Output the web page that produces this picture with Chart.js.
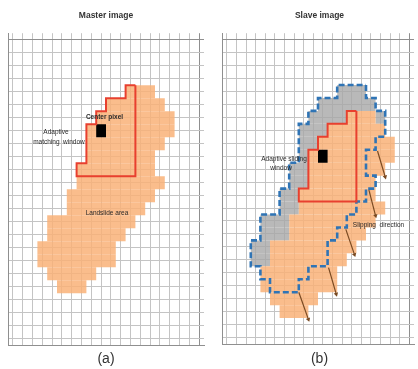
<!DOCTYPE html>
<html><head><meta charset="utf-8">
<script src="https://cdn.jsdelivr.net/npm/chart.js@4/dist/chart.umd.min.js"></script>
<style>
html,body{margin:0;padding:0;background:#fff;width:418px;height:369px;overflow:hidden}
#c1{position:absolute;left:0;top:0}
#c2{position:absolute;left:212px;top:0}
</style></head><body>
<canvas id="c1" width="212" height="369"></canvas>
<canvas id="c2" width="206" height="369"></canvas>
<script>
// ---- grid size (cells) ----
const COLS = 20, ROWS = 24;
// ---- landslide area in the master image: row index, first and last cell column ----
const slideRows  = [4, 5, 6, 7, 8, 9, 10, 11, 12, 13, 14, 15, 16, 17, 18, 19];
const slideStart = [12, 10, 9, 8, 8, 8, 7, 7, 6, 6, 4, 4, 3, 3, 4, 5];
const slideEnd   = [14, 15, 16, 16, 15, 14, 14, 15, 14, 13, 12, 11, 10, 10, 8, 7];
// ---- adaptive matching window ----
const winRows  = [4, 5, 6, 7, 8, 9, 10];
const winStart = [12, 10, 9, 8, 8, 8, 7];
const winEnd   = [12, 12, 12, 12, 12, 12, 12];
// ---- center pixel (col, row) ----
const centerCell = [9, 7];
// ---- slip of the landslide between the images (cols, rows) ----
const slipShift = [1, 2];
// ---- slipping direction arrows (cell units) ----
const arrowX0 = [16.2, 15.3, 12.9, 11.1, 8.0];
const arrowY0 = [9.1, 12.1, 15.15, 18.1, 20.0];
const arrowX1 = [17.0, 16.0, 13.8, 11.9, 9.0];
const arrowY1 = [11.1, 14.1, 17.1, 20.15, 22.1];
// ---- texts ----
const titles = ['Master image', 'Slave image'];
const captions = ['(a)', '(b)'];
const leftLabels = [
  {text: 'Center pixel', x: 9.85, y: 6.45, bold: true},
  {text: 'Adaptive', x: 4.9, y: 7.6},
  {text: 'matching  window', x: 5.2, y: 8.4},
  {text: 'Landslide area', x: 10.1, y: 13.85}
];
const rightLabels = [
  {text: 'Adaptive sliding', x: 6.46, y: 9.7},
  {text: 'window', x: 6.15, y: 10.4},
  {text: 'Slipping  direction', x: 16.3, y: 14.85}
];

const ORANGE = 'rgba(249,178,120,0.85)';
const GRAY = 'rgba(168,168,168,0.8)';
const RED = '#e8402f';
const BLUE = '#2f74b5';
const BROWN = '#7a4a22';

Chart.defaults.font.family = "'Liberation Sans', Arial, sans-serif";
Chart.defaults.devicePixelRatio = 1;

function cellSet(rows, starts, ends, dc, dr) {
  const s = new Set();
  rows.forEach((r, i) => { for (let c = starts[i]; c <= ends[i]; c++) s.add((c + dc) + ',' + (r + dr)); });
  return s;
}
function runs(set) {
  const out = [];
  for (let r = 0; r < ROWS; r++) {
    let c = 0;
    while (c < COLS) {
      if (set.has(c + ',' + r)) {
        let e = c;
        while (set.has((e + 1) + ',' + r)) e++;
        out.push({y: r + 0.5, x: [c, e + 1]});
        c = e + 1;
      } else c++;
    }
  }
  return out;
}
function outline(rows, starts, ends, dc, dr) {
  const pts = [];
  rows.forEach((r, i) => { pts.push({x: ends[i] + 1 + dc, y: r + dr}); pts.push({x: ends[i] + 1 + dc, y: r + 1 + dr}); });
  for (let i = rows.length - 1; i >= 0; i--) { pts.push({x: starts[i] + dc, y: rows[i] + 1 + dr}); pts.push({x: starts[i] + dc, y: rows[i] + dr}); }
  pts.push({...pts[0]});
  return pts;
}
function barDs(data, color, order) {
  return {type: 'bar', indexAxis: 'y', data, backgroundColor: color, borderWidth: 0,
    grouped: false, barPercentage: 1, categoryPercentage: 1, inflateAmount: 0, order};
}
function lineDs(data, color, width, dash, order) {
  return {type: 'line', data, borderColor: color, borderWidth: width, borderDash: dash || [],
    pointRadius: 0, fill: false, tension: 0, borderJoinStyle: 'miter', order};
}
function scaleOpts(max) {
  return {type: 'linear', min: 0, max, offset: false,
    ticks: {display: false, stepSize: 1, maxTicksLimit: 100, autoSkip: false},
    grid: {drawTicks: false, lineWidth: 1,
      color: ctx => (ctx.tick && (ctx.tick.value === 0 || ctx.tick.value === max)) ? '#8f8f8f' : '#c4c4c4'},
    border: {display: true, color: '#8f8f8f', width: 1}};
}
const textPlugin = {
  id: 'cellText',
  afterDatasetsDraw(chart, args, opts) {
    const ctx = chart.ctx, xs = chart.scales.x, ys = chart.scales.y;
    ctx.save();
    ctx.textAlign = 'center'; ctx.textBaseline = 'middle';
    (opts.items || []).forEach(l => {
      ctx.font = (l.bold ? 'bold ' : '') + "6.5px 'Liberation Sans', Arial, sans-serif";
      ctx.fillStyle = '#2a2a2a';
      ctx.fillText(l.text, xs.getPixelForValue(l.x), ys.getPixelForValue(l.y));
    });
    ctx.restore();
  }
};
function makeChart(id, datasets, title, caption, labels, pad) {
  return new Chart(document.getElementById(id), {
    type: 'bar',
    data: {datasets},
    plugins: [textPlugin],
    options: {
      responsive: false, animation: false, events: [],
      layout: {padding: {left: pad.left, right: pad.right, top: 0, bottom: 0}},
      scales: {x: scaleOpts(COLS), y: Object.assign(scaleOpts(ROWS), {reverse: true})},
      plugins: {
        legend: {display: false}, tooltip: {enabled: false},
        title: {display: true, text: title, color: '#333', font: {size: 8.5, weight: 'bold'}, padding: {top: 11, bottom: 12}},
        subtitle: {display: true, position: 'bottom', text: caption, color: '#333', font: {size: 14, weight: 'normal'}, padding: {top: pad.capTop, bottom: pad.capBottom}},
        cellText: {items: labels}
      }
    }
  });
}

// ---- master image ----
const orig = cellSet(slideRows, slideStart, slideEnd, 0, 0);
makeChart('c1', [
  lineDs(outline(winRows, winStart, winEnd, 0, 0), RED, 2, null, 1),
  barDs([{y: centerCell[1] + 0.5, x: [centerCell[0], centerCell[0] + 1]}], '#000', 3),
  barDs(runs(orig), ORANGE, 4)
], titles[0], captions[0], leftLabels, {left: 8, right: 8, capTop: 6, capBottom: 1});

// ---- slave image ----
const moved = cellSet(slideRows, slideStart, slideEnd, slipShift[0], slipShift[1]);
const uncovered = new Set([...orig].filter(k => !moved.has(k)));
const arrows = arrowX0.map((x0, i) => ({
  type: 'line', data: [{x: x0, y: arrowY0[i]}, {x: arrowX1[i], y: arrowY1[i]}],
  borderColor: BROWN, borderWidth: 1.2, fill: false, tension: 0, order: 0,
  pointRadius: [0, 2.6], pointStyle: 'triangle', pointBackgroundColor: BROWN, pointBorderColor: BROWN, pointBorderWidth: 0,
  rotation: ctx => {
    const ch = ctx.chart, d = ctx.dataset.data;
    if (!ch.scales || !ch.scales.x) return 0;
    const dx = ch.scales.x.getPixelForValue(d[1].x) - ch.scales.x.getPixelForValue(d[0].x);
    const dy = ch.scales.y.getPixelForValue(d[1].y) - ch.scales.y.getPixelForValue(d[0].y);
    return Math.atan2(dx, -dy) * 180 / Math.PI;
  }
}));
makeChart('c2', [
  ...arrows,
  lineDs(outline(winRows, winStart, winEnd, slipShift[0], slipShift[1]), RED, 2, null, 1),
  lineDs(outline(slideRows, slideStart, slideEnd, 0, 0), BLUE, 2.6, [6, 3], 2),
  barDs([{y: centerCell[1] + slipShift[1] + 0.5, x: [centerCell[0] + slipShift[0], centerCell[0] + slipShift[0] + 1]}], '#000', 3),
  barDs(runs(moved), ORANGE, 4),
  barDs(runs(uncovered), GRAY, 5)
], titles[1], captions[1], rightLabels, {left: 10, right: 1, capTop: 7, capBottom: 1.2});
</script>
</body></html>
